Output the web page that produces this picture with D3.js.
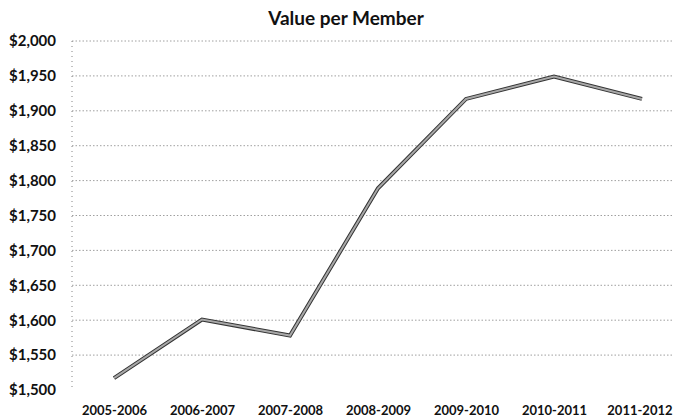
<!DOCTYPE html>
<html><head><meta charset="utf-8">
<script src="https://cdn.jsdelivr.net/npm/d3@7"></script>
<style>body{margin:0;background:#fff}svg{display:block}</style>
</head><body>
<svg id="c" width="674" height="420"></svg>
<script>
const categories = ["2005-2006","2006-2007","2007-2008","2008-2009","2009-2010","2010-2011","2011-2012"];
const values = [1517, 1601, 1578, 1789, 1917, 1949, 1917];
const yTicks = [1500,1550,1600,1650,1700,1750,1800,1850,1900,1950,2000];
const title = "Value per Member";

const svg = d3.select("#c");
const font = "Lato, 'Open Sans', sans-serif";
const x = d3.scalePoint().domain(categories).range([114, 642]);
const y = d3.scaleLinear().domain([1500, 2000]).range([390, 41]);
const left = 72, right = 672;

// gridlines
svg.append("g").selectAll("line").data(yTicks.filter(d=>d>1500)).join("line")
  .attr("x1", left).attr("x2", right)
  .attr("y1", d=>y(d)).attr("y2", d=>y(d))
  .attr("stroke", "#888").attr("stroke-width", 0.8).attr("stroke-dasharray", "1.5,2");

// vertical axis
svg.append("line").attr("x1", left).attr("x2", left).attr("y1", y(2000)).attr("y2", y(1500))
  .attr("stroke", "#666").attr("stroke-width", 0.8).attr("stroke-dasharray", "1,4");

// y axis labels
const fmt = d3.format("$,");
const yAxis = d3.axisLeft(y).tickValues(yTicks).tickSize(0).tickPadding(0).tickFormat(d=>fmt(d));
const gy = svg.append("g").attr("transform", "translate(56,0)").call(yAxis);
gy.select(".domain").remove();
gy.selectAll("text").attr("font-family", font).attr("font-weight", "bold").attr("font-size", 15).attr("fill", "#111");

// x axis labels
const xAxis = d3.axisBottom(x).tickSize(0).tickPadding(0);
const gx = svg.append("g").attr("transform", "translate(0,406)").call(xAxis);
gx.select(".domain").remove();
gx.selectAll("text").attr("font-family", font).attr("font-weight", "bold").attr("font-size", 13).attr("fill", "#111");
gx.selectAll("text").filter(d=>d===categories[categories.length-1]).attr("text-anchor","end").attr("x", 30);

// line
const line = d3.line().x((d,i)=>x(categories[i])).y(d=>y(d));
svg.append("path").datum(values).attr("d", line).attr("fill","none")
  .attr("stroke", "#333").attr("stroke-width", 4).attr("stroke-linejoin","miter");
svg.append("path").datum(values).attr("d", line).attr("fill","none")
  .attr("stroke", "#a8a8a8").attr("stroke-width", 2).attr("stroke-linejoin","miter");

// title
svg.append("text").attr("x", 346).attr("y", 25).attr("text-anchor","middle")
  .attr("font-family", font).attr("font-weight","bold").attr("font-size", 19).attr("fill","#111").text(title);
</script>
</body></html>
